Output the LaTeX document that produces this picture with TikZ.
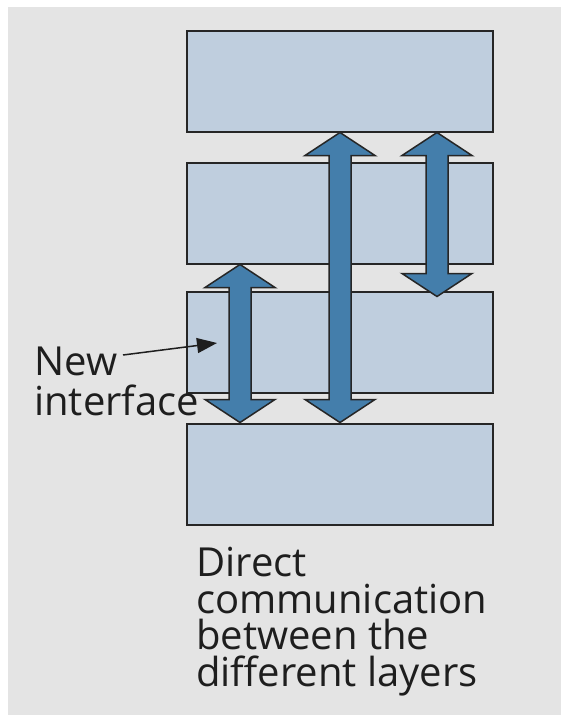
\documentclass[tikz,border=0pt]{standalone}
\usepackage{fontspec}
\setmainfont{Open Sans}
\usetikzlibrary{arrows.meta,calc}

\definecolor{layerfill}{RGB}{191,206,222}
\definecolor{arrowfill}{RGB}{68,126,171}
\definecolor{backfill}{RGB}{228,228,228}
\definecolor{textgray}{RGB}{30,30,30}

\tikzset{
	layer/.style={draw=black!85, line width=2pt, fill=layerfill, minimum width=306pt, minimum height=101pt, inner sep=0pt},
	bigarrow/.style={draw=black!85, line width=1.5pt, fill=arrowfill, line join=miter},
	label/.style={font=\fontsize{40}{40}\selectfont, text=textgray, align=left, inner sep=0pt},
}

% double arrow from top tip #1 to bottom tip #2
\newcommand{\dblarrow}[2]{%
	\filldraw[bigarrow] (#1) -- ++(35,23) -- ++(-24,0) -- ($(#2)+(11,-23)$) -- ++(24,0) -- (#2)
		-- ++(-35,-23) -- ++(24,0) -- ($(#1)+(-11,23)$) -- ++(-24,0) -- cycle;}

\begin{document}
\begin{tikzpicture}[x=1pt,y=-1pt]
	\useasboundingbox (0,0) rectangle (561,715);
	\fill[backfill] (8,7) rectangle (561,715);

	\node[layer] (L1) at (340,81) {};
	\node[layer] (L2) at (340,213) {};
	\node[layer] (L3) at (340,342) {};
	\node[layer] (L4) at (340,474) {};

	\dblarrow{$(L2.south)+(-100,0)$}{$(L4.north)+(-100,0)$}
	\dblarrow{L1.south}{L4.north}
	\dblarrow{$(L1.south)+(97,0)$}{$(L3.north)+(97,6)$}

	\node[label, anchor=north west] (newif) at (34,347) {New\\interface};
	\coordinate (ptstart) at (123,355);
	\coordinate (pttip) at (217,343);
	\draw[-{Triangle[length=20pt,width=15pt]}, line width=1.5pt, textgray] (ptstart) -- (pttip);

	\node[label, anchor=north west, font=\fontsize{40}{36.5}\selectfont] (direct) at (196,547) {Direct\\communication\\between the\\different layers};
\end{tikzpicture}
\end{document}
